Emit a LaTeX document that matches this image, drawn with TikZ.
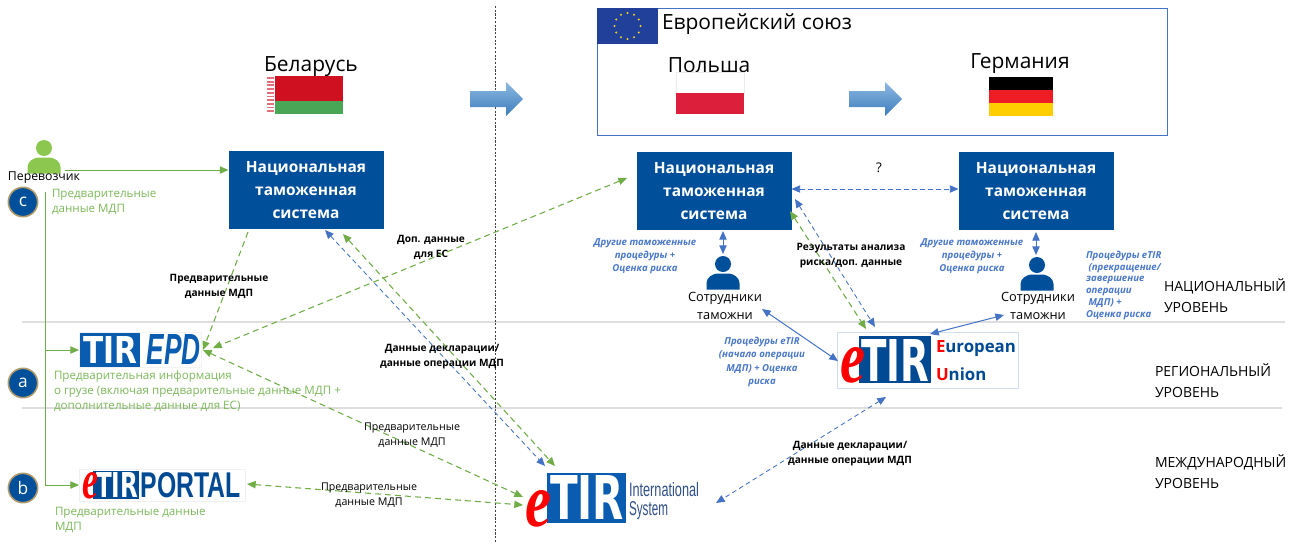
\documentclass[tikz,border=0pt]{standalone}
\usepackage{fontspec}
\setmainfont{Open Sans}
\newfontfamily\logof{Liberation Sans}
\newfontfamily\heavyf{DejaVu Sans}
\newfontfamily\eserif{Liberation Serif}
\usetikzlibrary{arrows.meta}
\definecolor{navy}{HTML}{004F9B}
\definecolor{ngreen}{HTML}{70AD47}
\definecolor{lgreen}{HTML}{7DB95B}
\definecolor{pgreen}{HTML}{8CC850}
\definecolor{nblue}{HTML}{4472C4}
\definecolor{lblue}{HTML}{4A78C8}
\definecolor{gold}{HTML}{B09A6A}
\definecolor{logoblue}{HTML}{0A5CB0}
\definecolor{darklogo}{HTML}{004A94}
\definecolor{euflagc}{HTML}{21409A}
\definecolor{starc}{HTML}{F5D020}
\definecolor{plred}{HTML}{DC1F3B}
\definecolor{deyellow}{HTML}{FFCE00}
\definecolor{dered}{HTML}{EE1C25}
\definecolor{byred}{HTML}{CE1021}
\definecolor{bygreen}{HTML}{4AA657}
\definecolor{arrowtop}{HTML}{8DB9E2}
\definecolor{arrowbot}{HTML}{3D7DBD}
\newcommand{\fs}[2]{\fontsize{#1}{#2}\selectfont}
\newdimen\pxu \pxu=0.75pt
\newcommand{\fitted}[3]{\resizebox{#1\pxu}{#2\pxu}{#3}}
\tikzset{
  x=0.75pt,y=-0.75pt,
  every node/.style={inner sep=0pt,outer sep=0pt},
  ntsbox/.style={fill=navy,text=white,align=center,font=\bfseries\fs{11.6}{17.3},minimum width=116.25pt,minimum height=58.5pt},
  greensolid/.style={draw=ngreen,line width=0.7pt,-{Triangle[length=6.5pt,width=5.5pt]}},
  greendash/.style={draw=ngreen,line width=0.8pt,dash pattern=on 4.5pt off 3pt,{Triangle[length=6.5pt,width=5.5pt]}-{Triangle[length=6.5pt,width=5.5pt]}},
  greendashone/.style={draw=ngreen,line width=0.8pt,dash pattern=on 4.5pt off 3pt,-{Triangle[length=6.5pt,width=5.5pt]}},
  bluedash/.style={draw=nblue,line width=0.65pt,dash pattern=on 3.5pt off 2.5pt,{Triangle[length=6.5pt,width=5.5pt]}-{Triangle[length=6.5pt,width=5.5pt]}},
  bluesolid/.style={draw=nblue,line width=0.75pt,{Triangle[length=6.5pt,width=5.5pt]}-{Triangle[length=6.5pt,width=5.5pt]}},
  lab/.style={align=center,font=\fs{8}{11.3},text=black},
  labb/.style={align=center,font=\bfseries\fs{7.6}{11.3},text=black},
  glab/.style={align=left,anchor=north west,font=\fs{8.7}{11.2},text=lgreen},
  blab/.style={align=center,font=\bfseries\itshape\fs{7.2}{9.9},text=lblue},
  lvl/.style={align=left,anchor=north west,font=\fs{10.5}{15.2},text=black},
  title/.style={font=\fs{15.7}{18},text=black},
  persl/.style={align=center,font=\fs{9.6}{14},text=black},
  letter/.style={circle,draw=gold,line width=1.2pt,fill=navy,text=white,minimum size=22pt,font=\fs{13}{13}},
  bigarrow/.style={top color=arrowtop,bottom color=arrowbot,draw=none},
}
\newcommand{\person}[3]{% cx, top y, colour
  \fill[#3] (#1,#2+8) circle (8);
  \fill[#3] (#1-16.5,#2+33.5) -- (#1-16.5,#2+27) .. controls (#1-16.5,#2+21) and (#1-10,#2+18) .. (#1-6,#2+17.5)
     -- (#1+6,#2+17.5) .. controls (#1+10,#2+18) and (#1+16.5,#2+21) .. (#1+16.5,#2+27) -- (#1+16.5,#2+33.5) -- cycle;
}
\newcommand{\bigarr}[2]{% left x, centre y
  \shade[bigarrow] (#1,#2-8) -- (#1+36,#2-8) -- (#1+36,#2-17) -- (#1+53,#2) -- (#1+36,#2+17) -- (#1+36,#2+8) -- (#1,#2+8) -- cycle;
}
\begin{document}
\begin{tikzpicture}
\useasboundingbox (0,0) rectangle (1301,543);
\fill[white] (0,0) rectangle (1301,543);
% level lines
\coordinate (l1a) at (22,322); \coordinate (l1b) at (1285,322);
\coordinate (l2a) at (22,408); \coordinate (l2b) at (1282,408);
\draw[black!13,line width=0.8pt] (l1a) -- (l1b);
\draw[black!13,line width=0.8pt] (l2a) -- (l2b);
% separator
\coordinate (sa) at (495,6); \coordinate (sb) at (495,543);
\draw[black!75,line width=0.5pt,dash pattern=on 1.6pt off 1.2pt] (sa) -- (sb);
% EU frame
\node[draw=nblue,line width=0.6pt,minimum width=428pt,minimum height=95.25pt,anchor=north west] (eubox) at (597,8) {};
\fill[euflagc] (597,8) rectangle (658,44);
\foreach \a in {0,30,...,330}
  \fill[starc] (627.5,26) ++(\a:13) circle (1.1);
\node[title,anchor=west] (eut) at (662,24) {Европейский союз};
\node[title] (pl) at (709,65) {Польша};
\node[title] (de) at (1020,64) {Германия};
\node[title] (by) at (311,67) {Беларусь};
% flags
\draw[black!8,fill=white,line width=0.4pt] (676,72) rectangle (744,93);
\fill[plred] (676,93) rectangle (744,114);
\fill[black] (989,77) rectangle (1053,90);
\fill[dered] (989,90) rectangle (1053,103);
\fill[deyellow] (989,103) rectangle (1053,116);
\fill[byred] (266,76) rectangle (343,101);
\fill[bygreen] (266,101) rectangle (343,114);
\fill[white] (266,76) rectangle (275,114);
\foreach \j in {0,1,2,3,4,5,6,7,8,9}
  \fill[byred!60] (267,77+\j*3.7) rectangle (274,78.8+\j*3.7);
\bigarr{470}{99}
\bigarr{849}{99}
% National systems
\node[ntsbox] (ntsby) at (306,190) {Национальная\\таможенная\\система};
\node[ntsbox] (ntspl) at (714,191) {Национальная\\таможенная\\система};
\node[ntsbox] (ntsde) at (1036,191) {Национальная\\таможенная\\система};
\node[font=\fs{10}{12}] (q) at (879,168) {?};
% persons
\person{44}{140}{pgreen}
\node[font=\fs{9.2}{11},text=black] (carrier) at (44,178) {Перевозчик};
\person{723}{256}{navy}
\node[persl] (off1) at (725,306) {Сотрудники\\таможни};
\person{1037}{257}{navy}
\node[persl] (off2) at (1038,306) {Сотрудники\\таможни};
% letter circles
\node[letter] (cc) at (23,202) {c};
\node[letter] (ca) at (23,383) {a};
\node[letter] (cb) at (23,488) {b};
% TIR EPD logo
\node[draw=black!5,line width=0.3pt,minimum width=91.5pt,minimum height=26.5pt,anchor=north west] (epd) at (79,332) {};
\fill[logoblue] (80,333) rectangle (140,367);
\node[text=white] (epdtir) at (110,350) {\fitted{54}{27}{\heavyf\bfseries TIR}};
\node[text=logoblue] (epdepd) at (173.5,349) {\fitted{54}{30}{\logof\bfseries\itshape EPD}};
% eTIR portal logo
\node[draw=black!6,line width=0.3pt,minimum width=125pt,minimum height=24.5pt,anchor=north west] (portal) at (79,469) {};
\fill[darklogo] (93,471) rectangle (139,499);
\node[text=white] (pttir) at (117,485) {\fitted{42}{25}{\heavyf\bfseries TIR}};
\node[text=darklogo] (ptp) at (191,485) {\fitted{100}{25}{\logof\bfseries PORTAL}};
\node[text=red] (pte) at (90,486) {\fitted{16}{26}{\eserif\bfseries\itshape e}};
% eTIR international logo
\node[minimum width=130pt,minimum height=38pt,anchor=north west] (intl) at (525,473) {};
\fill[logoblue] (547,473) rectangle (626,523);
\node[text=white] (intir) at (587,497) {\fitted{74}{44}{\heavyf\bfseries TIR}};
\node[text=red] (ine) at (538,509) {\fitted{26}{36}{\eserif\bfseries\itshape e}};
\node[text=nblue!70!black,anchor=west] (inint) at (629,490) {\fitted{70}{14}{\logof International}};
\node[text=nblue!70!black,anchor=west] (insys) at (629,511) {\fitted{39}{14}{\logof System}};
% eTIR EU logo
\node[draw=nblue!25,line width=0.5pt,minimum width=135.75pt,minimum height=42pt,anchor=north west] (eulogo) at (837,332) {};
\fill[darklogo] (859,336) rectangle (931,383);
\node[text=white] (eutir) at (895,360) {\fitted{68}{42}{\heavyf\bfseries TIR}};
\node[text=red] (eue) at (853,365) {\fitted{25}{35}{\eserif\bfseries\itshape e}};
\node[anchor=west,font=\bfseries\fs{12.6}{16},text=darklogo] (eueur) at (936,349) {{\color{red}E}uropean};
\node[anchor=west,font=\bfseries\fs{12.6}{16},text=darklogo] (euuni) at (936,374) {{\color{red}U}nion};
% free ends on nodes
\coordinate (crr) at (65,170);
\coordinate (vt) at (45,192);
\coordinate (vm) at (45,350);
\coordinate (vb) at (45,485);
% connectors
\draw[greensolid] (crr) -- (ntsby.west |- crr);
\draw[ngreen,line width=0.65pt] (vt) -- (vb);
\draw[greensolid] (vm) -- (epd.west |- vm);
\draw[greensolid] (vb) -- (portal.west |- vb);
\coordinate (a1) at (248,232); \coordinate (a1e) at (203,350);
\draw[greendashone] (a1) -- (a1e);
\coordinate (a2) at (627,178); \coordinate (a2e) at (213,348);
\draw[greendash] (a2) -- (a2e);
\coordinate (a3) at (203,350); \coordinate (a3e) at (523,497);
\draw[greendash] (a3) -- (a3e);
\coordinate (a4) at (247,484); \coordinate (a4e) at (523,505);
\draw[greendash] (a4) -- (a4e);
\coordinate (a5) at (325,230); \coordinate (a5e) at (545,466);
\draw[bluedash] (a5) -- (a5e);
\coordinate (a6) at (343,234); \coordinate (a6e) at (555,466);
\draw[greendash] (a6) -- (a6e);
\draw[bluedash] (ntspl.east) ++(0,-2) coordinate (a7) -- (ntsde.west |- a7);
\coordinate (a8) at (790,211); \coordinate (a8e) at (866,329);
\draw[greendash] (a8) -- (a8e);
\coordinate (a9) at (795,199); \coordinate (a9e) at (875,327);
\draw[bluedash] (a9) -- (a9e);
\coordinate (a10) at (723,231); \coordinate (a10e) at (723,254);
\draw[bluesolid] (a10) -- (a10e);
\coordinate (a11) at (1036,232); \coordinate (a11e) at (1036,255);
\draw[bluesolid] (a11) -- (a11e);
\coordinate (a12) at (762,309); \coordinate (a12e) at (838,361);
\draw[bluesolid] (a12) -- (a12e);
\coordinate (a13) at (1004,315); \coordinate (a13e) at (930,334);
\draw[bluesolid] (a13) -- (a13e);
\coordinate (a14) at (886,397); \coordinate (a14e) at (716,503);
\draw[bluedash] (a14) -- (a14e);
% labels
\node[glab] (g1) at (52,189) {Предварительные\\данные МДП};
\node[glab] (g2) at (54,371) {Предварительная информация\\о грузе (включая предварительные данные МДП +\\дополнительные данные для ЕС)};
\node[glab] (g3) at (55,507) {Предварительные данные\\МДП};
\node[labb] (t1) at (219,286) {Предварительные\\данные МДП};
\node[labb] (t2) at (431,247) {Доп. данные\\для ЕС};
\node[labb] (t3) at (442,357) {Данные декларации/\\данные операции МДП};
\node[lab] (t4) at (412,435) {Предварительные\\данные МДП};
\node[lab] (t5) at (369,495) {Предварительные\\данные МДП};
\node[labb] (t6) at (850,454) {Данные декларации/\\данные операции МДП};
\node[labb] (t7) at (851,256) {Результаты анализа\\риска/доп. данные};
\node[blab] (b1) at (645,256) {Другие таможенные\\процедуры +\\Оценка риска};
\node[blab] (b2) at (972,256) {Другие таможенные\\процедуры +\\Оценка риска};
\node[blab,align=left,anchor=north west,font=\bfseries\itshape\fs{7.2}{8.8}] (b3) at (1086,251) {Процедуры eTIR\\\ (прекращение/\\завершение\\операции\\\ МДП) +\\Оценка риска};
\node[blab] (b4) at (762,362) {Процедуры eTIR\\(начало операции\\МДП) + Оценка\\риска};
\node[lvl] (lv1) at (1164,279) {НАЦИОНАЛЬНЫЙ\\УРОВЕНЬ};
\node[lvl] (lv2) at (1155,364) {РЕГИОНАЛЬНЫЙ\\УРОВЕНЬ};
\node[lvl] (lv3) at (1155,455) {МЕЖДУНАРОДНЫЙ\\УРОВЕНЬ};
\end{tikzpicture}
\end{document}
